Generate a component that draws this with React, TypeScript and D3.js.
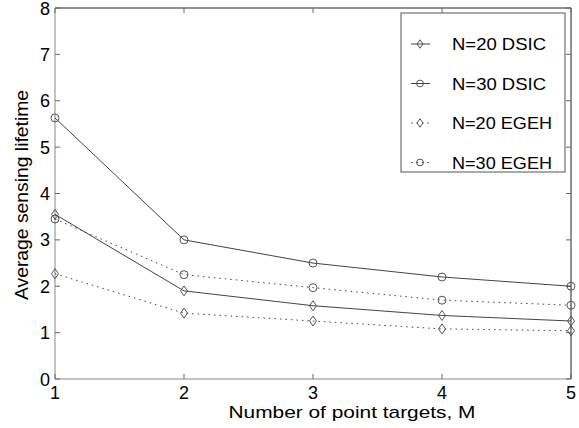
import React from 'react';
import * as d3 from 'd3';

const mValues = [1, 2, 3, 4, 5];
const n20Dsic = [3.55, 1.9, 1.58, 1.37, 1.25];
const n30Dsic = [5.63, 3.0, 2.5, 2.2, 2.0];
const n20Egeh = [2.27, 1.42, 1.25, 1.08, 1.04];
const n30Egeh = [3.45, 2.25, 1.97, 1.7, 1.59];
const yTicks = [0, 1, 2, 3, 4, 5, 6, 7, 8];

const series = [
  { name: 'N=20 DSIC', values: n20Dsic, marker: 'diamond', dash: '' },
  { name: 'N=30 DSIC', values: n30Dsic, marker: 'circle', dash: '' },
  { name: 'N=20 EGEH', values: n20Egeh, marker: 'diamond', dash: '1.5,4' },
  { name: 'N=30 EGEH', values: n30Egeh, marker: 'circle', dash: '1.5,4' },
];

const left = 55, right = 571, top = 8, bottom = 379;
const font = 'Arial, "Liberation Sans", sans-serif';

const Marker = ({ kind, x, y, s = 1 }) =>
  kind === 'diamond' ? (
    <path d={`M${x},${y - 5 * s}L${x + 3.5 * s},${y}L${x},${y + 5 * s}L${x - 3.5 * s},${y}Z`} fill="none" stroke="#444" strokeWidth={0.9} />
  ) : (
    <circle cx={x} cy={y} r={4 * s} fill="none" stroke="#444" strokeWidth={0.9} />
  );

const App = () => {
  const x = d3.scaleLinear().domain([1, 5]).range([left, right]);
  const y = d3.scaleLinear().domain([0, 8]).range([bottom, top]);
  const line = d3.line<number>().x((d, i) => x(mValues[i])).y((d) => y(d));

  return (
    <svg width={579} height={428} style={{ position: 'absolute', left: 0, top: 0, background: '#fff' }}>
      {/* frame */}
      <line x1={left} x2={right} y1={top} y2={top} stroke="#222" />
      <line x1={right} x2={right} y1={top} y2={bottom} stroke="#222" />
      <line x1={left} x2={left} y1={top} y2={bottom} stroke="#888" />
      <line x1={left} x2={right} y1={bottom} y2={bottom} stroke="#888" />

      {yTicks.map((t) => (
        <g key={'y' + t}>
          <line x1={left} x2={left + 5} y1={y(t)} y2={y(t)} stroke="#666" />
          <line x1={right} x2={right - 5} y1={y(t)} y2={y(t)} stroke="#666" />
          <text x={left - 5} y={y(t) + 6.5} textAnchor="end" fontSize={18} fontFamily={font}>{t}</text>
        </g>
      ))}
      {mValues.map((t) => (
        <g key={'x' + t}>
          <line x1={x(t)} x2={x(t)} y1={bottom} y2={bottom - 5} stroke="#666" />
          <line x1={x(t)} x2={x(t)} y1={top} y2={top + 5} stroke="#666" />
          <text x={x(t)} y={bottom + 20} textAnchor="middle" fontSize={18} fontFamily={font}>{t}</text>
        </g>
      ))}

      <text x={352} y={418} textAnchor="middle" fontSize={17} fontFamily={font}
        textLength={247} lengthAdjust="spacingAndGlyphs">Number of point targets, M</text>
      <text transform={`translate(28, 195) rotate(-90)`} textAnchor="middle" fontSize={18} fontFamily={font}
        textLength={210} lengthAdjust="spacingAndGlyphs">
        Average sensing lifetime
      </text>

      {series.map((s) => (
        <g key={s.name}>
          <path d={line(s.values) || ''} fill="none" stroke="#444" strokeWidth={1} strokeDasharray={s.dash} />
          {s.values.map((v, i) => (
            <Marker key={i} kind={s.marker} x={x(mValues[i])} y={y(v)} />
          ))}
        </g>
      ))}

      {/* legend */}
      <rect x={401} y={13} width={164} height={159} fill="#fff" stroke="#555" />
      {series.map((s, i) => {
        const ly = 44 + i * 39.5;
        return (
          <g key={'l' + s.name}>
            <line x1={411} x2={430} y1={ly} y2={ly} stroke="#444" strokeDasharray={s.dash} />
            <Marker kind={s.marker} x={420} y={ly} s={0.85} />
            <text x={452} y={ly + 6} fontSize={17} fontFamily={font}
              textLength={s.name.includes('EGEH') ? 100 : 94} lengthAdjust="spacingAndGlyphs">{s.name}</text>
          </g>
        );
      })}
    </svg>
  );
};

export default App;
